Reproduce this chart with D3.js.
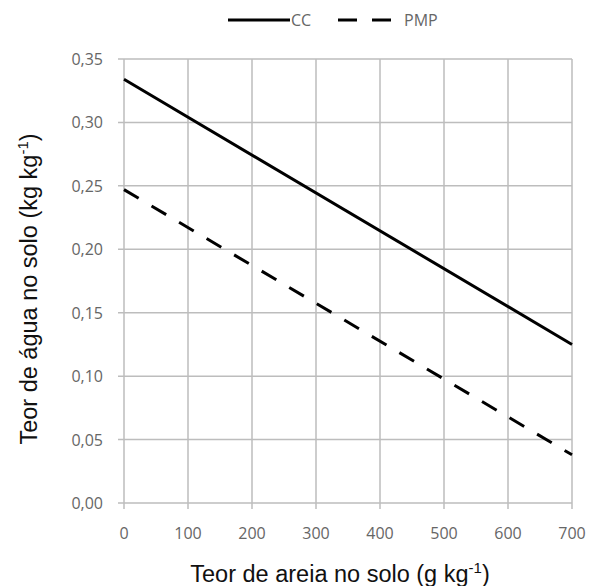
<!DOCTYPE html>
<meta charset='utf-8'>
<style>
    body { margin: 0; background: #fff; }
    .grid line { stroke: #bdbdbd; stroke-width: 1.5; }
    .lbl { fill: #666; font-family: 'Open Sans', sans-serif; font-size: 16px; }
    .title { font-family: 'Liberation Sans', Arial, sans-serif; font-size: 23.5px; fill: #111; }
</style>

<svg width="590" height="586"></svg>
<script src="https://d3js.org/d3.v7.min.js"></script>

<script>

var areia = [0, 700];
var cc = [0.334, 0.125];
var pmp = [0.247, 0.038];
var xTicks = [0, 100, 200, 300, 400, 500, 600, 700];
var yTicks = [0, 0.05, 0.10, 0.15, 0.20, 0.25, 0.30, 0.35];

var svg = d3.select('svg');

var x = d3.scaleLinear().domain([0, 700]).range([124, 572]);
var y = d3.scaleLinear().domain([0, 0.35]).range([503, 59]);

var fmt = function(d) { return d3.format('.2f')(d).replace('.', ','); };

// grid
var grid = svg.append('g').attr('class', 'grid');
grid.selectAll('.v').data(xTicks).enter().append('line')
    .attr('x1', function(d) { return x(d); })
    .attr('x2', function(d) { return x(d); })
    .attr('y1', y(0.35))
    .attr('y2', y(0) + 6);
grid.selectAll('.h').data(yTicks).enter().append('line')
    .attr('y1', function(d) { return y(d); })
    .attr('y2', function(d) { return y(d); })
    .attr('x1', x(0) - 6)
    .attr('x2', x(700));

// tick labels
svg.append('g').selectAll('text').data(yTicks).enter().append('text')
    .attr('class', 'lbl')
    .attr('x', 103)
    .attr('y', function(d) { return y(d) + 6; })
    .attr('text-anchor', 'end')
    .text(fmt);
svg.append('g').selectAll('text').data(xTicks).enter().append('text')
    .attr('class', 'lbl')
    .attr('x', function(d) { return x(d); })
    .attr('y', 539)
    .attr('text-anchor', 'middle')
    .text(function(d) { return d; });

// lines
var line = function(vals) {
    return d3.line()
        .x(function(d, i) { return x(areia[i]); })
        .y(function(d) { return y(d); })(vals);
};

svg.append('path')
    .attr('d', line(cc))
    .attr('fill', 'none')
    .attr('stroke', '#000')
    .attr('stroke-width', 3);

svg.append('path')
    .attr('d', line(pmp))
    .attr('fill', 'none')
    .attr('stroke', '#000')
    .attr('stroke-width', 3)
    .attr('stroke-dasharray', '17,15');

// legend
var leg = svg.append('g');
leg.append('line').attr('x1', 228).attr('x2', 290).attr('y1', 20).attr('y2', 20)
    .attr('stroke', '#000').attr('stroke-width', 3);
leg.append('text').attr('class', 'lbl').attr('x', 291).attr('y', 26).text('CC');
leg.append('line').attr('x1', 338).attr('x2', 392).attr('y1', 20).attr('y2', 20)
    .attr('stroke', '#000').attr('stroke-width', 3).attr('stroke-dasharray', '19,15');
leg.append('text').attr('class', 'lbl').attr('x', 404).attr('y', 26).text('PMP');

// axis titles
var xt = svg.append('text').attr('class', 'title')
    .attr('x', 340).attr('y', 582).attr('text-anchor', 'middle');
xt.append('tspan').text('Teor de areia no solo (g kg');
xt.append('tspan').attr('dy', -9).style('font-size', '15px').text('-1');
xt.append('tspan').attr('dy', 9).text(')');

var yt = svg.append('text').attr('class', 'title')
    .attr('transform', 'translate(37,289) rotate(-90)')
    .attr('text-anchor', 'middle');
yt.append('tspan').text('Teor de água no solo (kg kg');
yt.append('tspan').attr('dy', -9).style('font-size', '15px').text('-1');
yt.append('tspan').attr('dy', 9).text(')');

</script>
